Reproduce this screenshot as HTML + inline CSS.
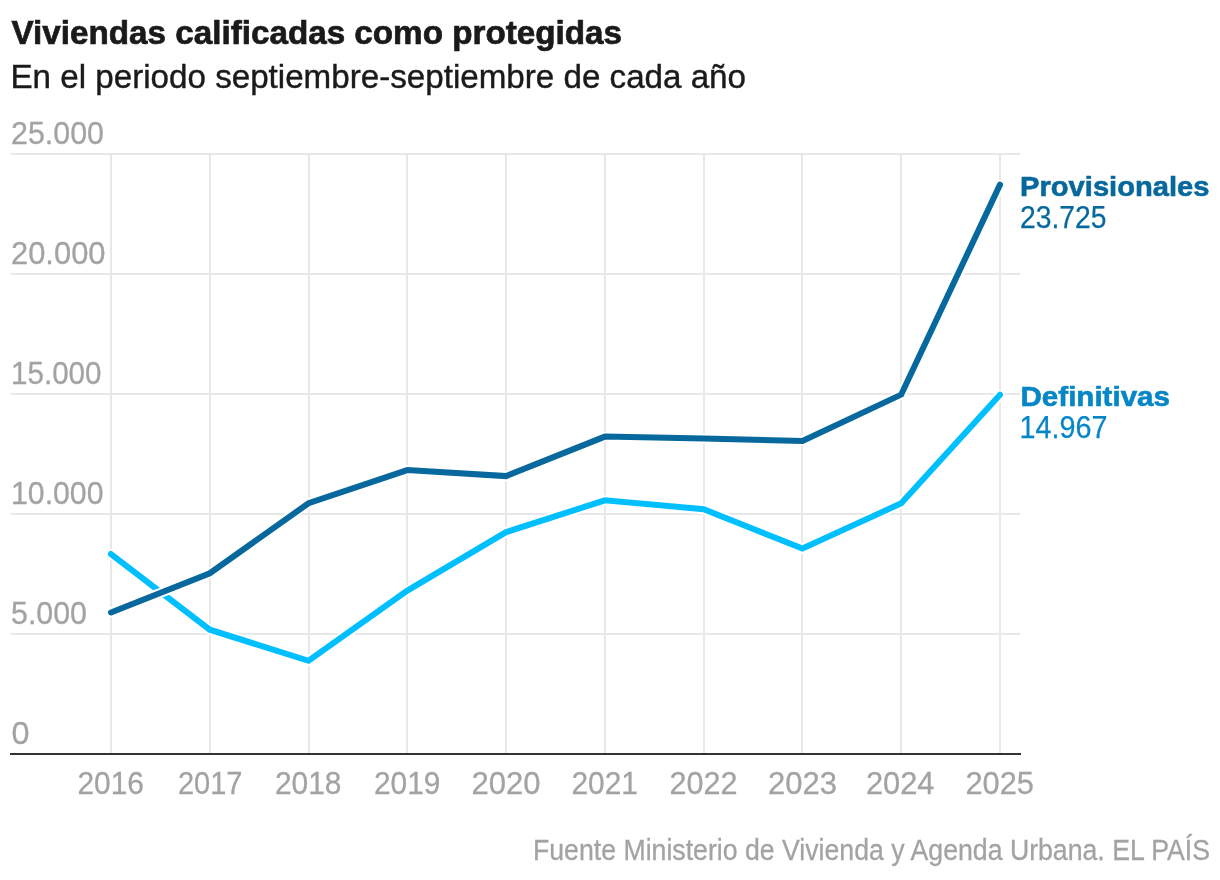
<!DOCTYPE html>
<html><head><meta charset="utf-8"><style>
html,body{margin:0;padding:0;background:#fff;}
body{width:1220px;height:880px;overflow:hidden;}
svg{display:block;will-change:transform;}
text{font-family:"Liberation Sans",sans-serif;}
</style></head><body>
<svg width="1220" height="880" viewBox="0 0 1220 880">
<rect width="1220" height="880" fill="#fff"/>
<rect x="11" y="633" width="1009" height="2" fill="#e8e8e8"/>
<rect x="11" y="513" width="1009" height="2" fill="#e8e8e8"/>
<rect x="11" y="393" width="1009" height="2" fill="#e8e8e8"/>
<rect x="11" y="273" width="1009" height="2" fill="#e8e8e8"/>
<rect x="11" y="153" width="1009" height="2" fill="#e8e8e8"/>
<rect x="110" y="154" width="2" height="600" fill="#e8e8e8"/>
<rect x="209" y="154" width="2" height="600" fill="#e8e8e8"/>
<rect x="308" y="154" width="2" height="600" fill="#e8e8e8"/>
<rect x="406" y="154" width="2" height="600" fill="#e8e8e8"/>
<rect x="505" y="154" width="2" height="600" fill="#e8e8e8"/>
<rect x="604" y="154" width="2" height="600" fill="#e8e8e8"/>
<rect x="703" y="154" width="2" height="600" fill="#e8e8e8"/>
<rect x="801" y="154" width="2" height="600" fill="#e8e8e8"/>
<rect x="900" y="154" width="2" height="600" fill="#e8e8e8"/>
<rect x="999" y="154" width="2" height="600" fill="#e8e8e8"/>
<rect x="10" y="753" width="1011" height="2" fill="#333"/>
<polyline points="111.00,554.01 209.78,629.70 308.56,660.81 407.33,590.61 506.11,532.10 604.89,500.30 703.67,509.20 802.44,548.49 901.22,503.30 1000.00,394.79" fill="none" stroke="#fff" stroke-width="10" stroke-linecap="round" stroke-linejoin="miter"/>
<polyline points="111.00,554.01 209.78,629.70 308.56,660.81 407.33,590.61 506.11,532.10 604.89,500.30 703.67,509.20 802.44,548.49 901.22,503.30 1000.00,394.79" fill="none" stroke="#00bfff" stroke-width="6" stroke-linecap="round" stroke-linejoin="miter"/>
<polyline points="111.00,612.50 209.78,573.30 308.56,503.20 407.33,470.10 506.11,476.10 604.89,436.60 703.67,438.59 802.44,440.90 901.22,394.60 1000.00,184.60" fill="none" stroke="#fff" stroke-width="10" stroke-linecap="round" stroke-linejoin="miter"/>
<polyline points="111.00,612.50 209.78,573.30 308.56,503.20 407.33,470.10 506.11,476.10 604.89,436.60 703.67,438.59 802.44,440.90 901.22,394.60 1000.00,184.60" fill="none" stroke="#06689c" stroke-width="6" stroke-linecap="round" stroke-linejoin="miter"/>
<text id="title" x="11.50" y="44.00" font-size="33" font-weight="bold" fill="#1a1a1a" stroke="#1a1a1a" stroke-width="0.7" textLength="610.50" lengthAdjust="spacingAndGlyphs">Viviendas calificadas como protegidas</text>
<text id="sub" x="10.50" y="88.00" font-size="32.5" fill="#1a1a1a" stroke="#1a1a1a" stroke-width="0.4" textLength="735.50" lengthAdjust="spacingAndGlyphs">En el periodo septiembre-septiembre de cada año</text>
<text id="y25.000" x="11.00" y="144.00" font-size="31" fill="#a3a3a3" stroke="#a3a3a3" stroke-width="0.3" textLength="93.00" lengthAdjust="spacingAndGlyphs">25.000</text>
<text id="y20.000" x="11.00" y="264.00" font-size="31" fill="#a3a3a3" stroke="#a3a3a3" stroke-width="0.3" textLength="94.50" lengthAdjust="spacingAndGlyphs">20.000</text>
<text id="y15.000" x="11.00" y="384.00" font-size="31" fill="#a3a3a3" stroke="#a3a3a3" stroke-width="0.3" textLength="90.50" lengthAdjust="spacingAndGlyphs">15.000</text>
<text id="y10.000" x="11.00" y="504.00" font-size="31" fill="#a3a3a3" stroke="#a3a3a3" stroke-width="0.3" textLength="92.50" lengthAdjust="spacingAndGlyphs">10.000</text>
<text id="y5.000" x="11.00" y="624.00" font-size="31" fill="#a3a3a3" stroke="#a3a3a3" stroke-width="0.3" textLength="76.00" lengthAdjust="spacingAndGlyphs">5.000</text>
<text id="y0" x="11.50" y="744.00" font-size="31" fill="#a3a3a3" stroke="#a3a3a3" stroke-width="0.3" textLength="18.00" lengthAdjust="spacingAndGlyphs">0</text>
<text id="2016" x="77.50" y="794.00" font-size="31" fill="#a3a3a3" stroke="#a3a3a3" stroke-width="0.3" textLength="66.50" lengthAdjust="spacingAndGlyphs">2016</text>
<text id="2017" x="178.00" y="794.00" font-size="31" fill="#a3a3a3" stroke="#a3a3a3" stroke-width="0.3" textLength="64.50" lengthAdjust="spacingAndGlyphs">2017</text>
<text id="2018" x="275.00" y="794.00" font-size="31" fill="#a3a3a3" stroke="#a3a3a3" stroke-width="0.3" textLength="66.50" lengthAdjust="spacingAndGlyphs">2018</text>
<text id="2019" x="374.00" y="794.00" font-size="31" fill="#a3a3a3" stroke="#a3a3a3" stroke-width="0.3" textLength="66.50" lengthAdjust="spacingAndGlyphs">2019</text>
<text id="2020" x="471.50" y="794.00" font-size="31" fill="#a3a3a3" stroke="#a3a3a3" stroke-width="0.3" textLength="69.00" lengthAdjust="spacingAndGlyphs">2020</text>
<text id="2021" x="571.50" y="794.00" font-size="31" fill="#a3a3a3" stroke="#a3a3a3" stroke-width="0.3" textLength="66.50" lengthAdjust="spacingAndGlyphs">2021</text>
<text id="2022" x="669.50" y="794.00" font-size="31" fill="#a3a3a3" stroke="#a3a3a3" stroke-width="0.3" textLength="68.00" lengthAdjust="spacingAndGlyphs">2022</text>
<text id="2023" x="768.00" y="794.00" font-size="31" fill="#a3a3a3" stroke="#a3a3a3" stroke-width="0.3" textLength="69.00" lengthAdjust="spacingAndGlyphs">2023</text>
<text id="2024" x="866.00" y="794.00" font-size="31" fill="#a3a3a3" stroke="#a3a3a3" stroke-width="0.3" textLength="68.50" lengthAdjust="spacingAndGlyphs">2024</text>
<text id="2025" x="965.50" y="794.00" font-size="31" fill="#a3a3a3" stroke="#a3a3a3" stroke-width="0.3" textLength="68.50" lengthAdjust="spacingAndGlyphs">2025</text>
<text id="prov" x="1020.00" y="196.00" font-size="28.5" font-weight="bold" fill="#06689c" stroke="#06689c" stroke-width="0.6" textLength="189.50" lengthAdjust="spacingAndGlyphs">Provisionales</text>
<text id="pv" x="1020.00" y="228.00" font-size="30.5" fill="#06689c" stroke="#06689c" stroke-width="0.25" textLength="86.50" lengthAdjust="spacingAndGlyphs">23.725</text>
<text id="def" x="1020.50" y="406.00" font-size="28.5" font-weight="bold" fill="#0586c6" stroke="#0586c6" stroke-width="0.6" textLength="149.50" lengthAdjust="spacingAndGlyphs">Definitivas</text>
<text id="dv" x="1019.50" y="438.00" font-size="30.5" fill="#0586c6" stroke="#0586c6" stroke-width="0.25" textLength="88.00" lengthAdjust="spacingAndGlyphs">14.967</text>
<text id="src" x="533.00" y="860.00" font-size="29" fill="#a3a3a3" stroke="#a3a3a3" stroke-width="0.3" textLength="677.00" lengthAdjust="spacingAndGlyphs">Fuente Ministerio de Vivienda y Agenda Urbana. EL PAÍS</text>
</svg>
</body></html>
